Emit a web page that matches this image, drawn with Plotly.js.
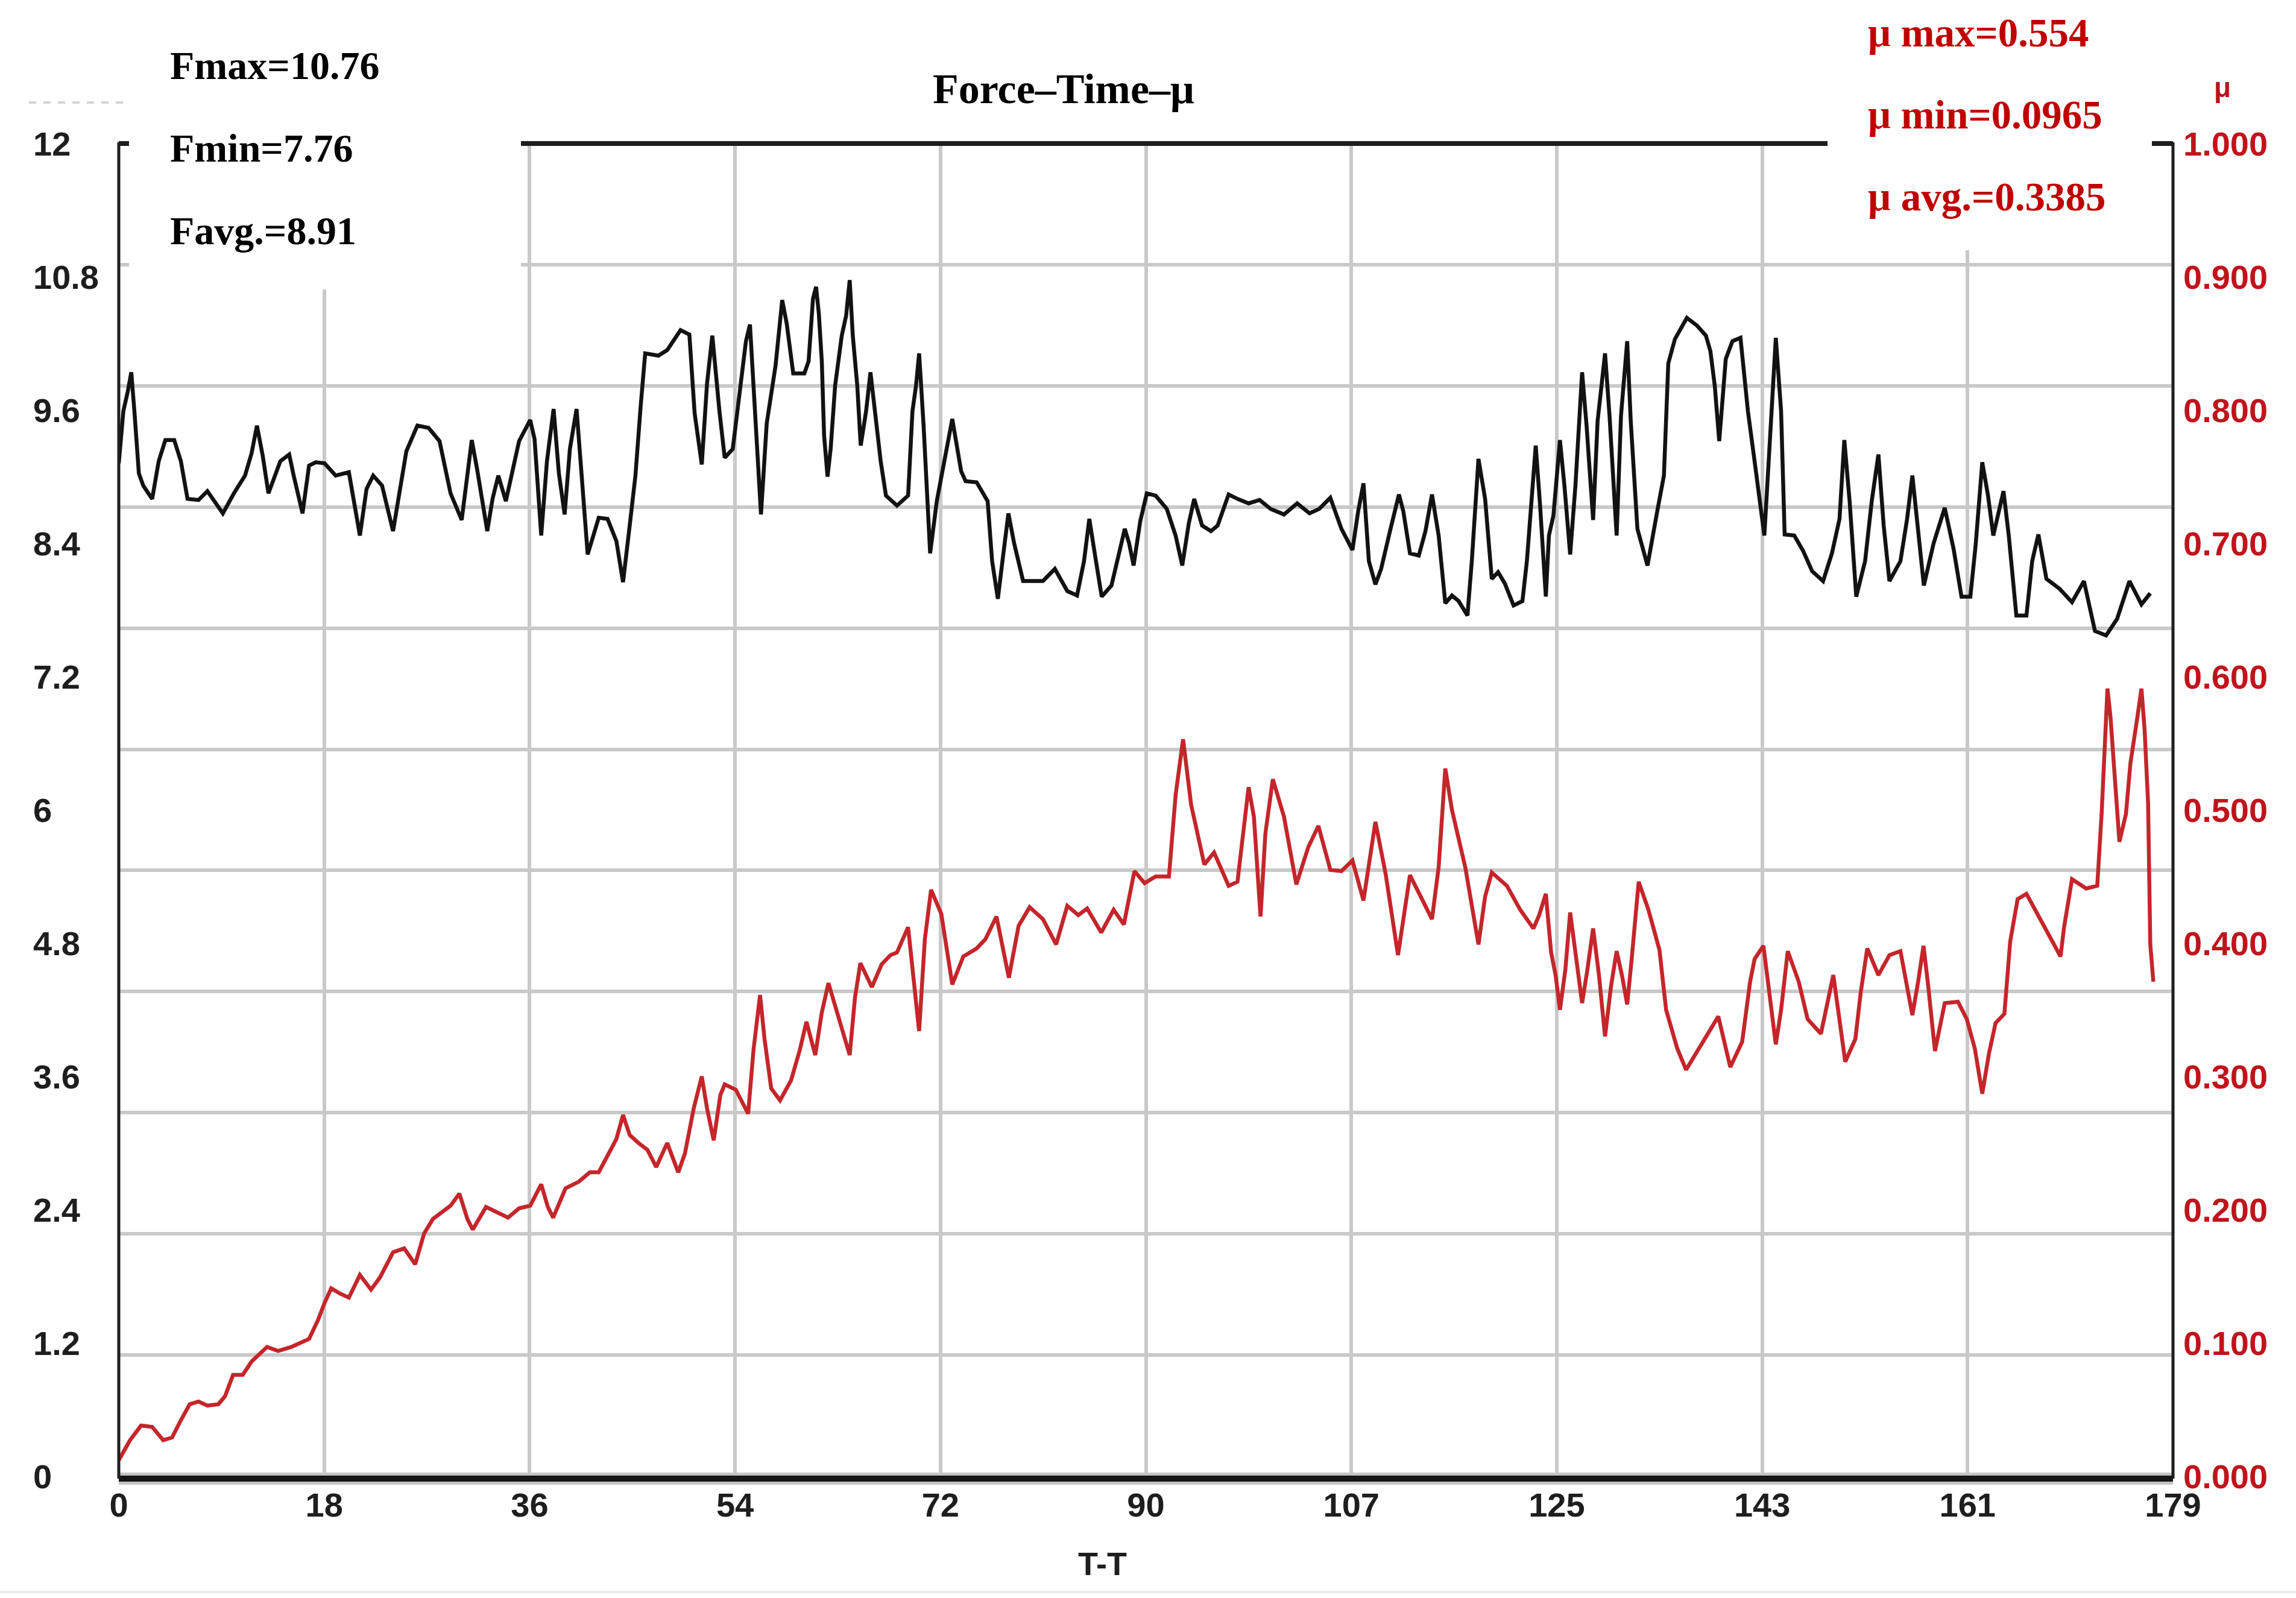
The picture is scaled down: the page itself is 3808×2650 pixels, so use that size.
<!DOCTYPE html>
<html>
<head>
<meta charset="utf-8">
<script src="https://cdn.plot.ly/plotly-3.0.1.min.js"></script>
<style>html,body{margin:0;padding:0;background:#fff;}#chart{width:3808px;height:2650px;}</style>
</head>
<body>
<div id="chart"></div>
<script>
// ---------- data ----------
const forceTime = [0,0.4,0.79,1.09,1.36,1.75,2.13,2.91,3.48,4.06,4.83,5.41,5.99,6.95,7.72,9.07,10.03,11.0,11.57,12.04,12.54,13.04,14.08,14.85,15.24,16.01,16.58,17.16,17.93,18.9,20.05,21.01,21.59,22.17,22.94,23.9,25.06,26.02,26.99,27.95,28.91,29.88,30.26,30.76,31.22,32.11,32.57,33.07,33.73,34.31,34.88,35.85,36.23,36.81,37.31,37.89,38.35,38.85,39.31,39.89,40.47,40.86,41.82,42.59,43.36,43.94,44.52,45.02,45.48,45.87,47.02,47.79,48.95,49.72,50.18,50.8,51.26,51.72,52.34,52.8,53.5,54.15,54.65,55.0,55.42,55.96,56.46,57.23,57.81,58.2,58.77,59.74,60.11,60.49,60.76,61.0,61.26,61.46,61.76,62.03,62.42,63.0,63.38,63.69,63.96,64.35,64.65,65.12,65.5,65.89,66.39,66.85,67.81,68.78,69.16,69.47,69.74,70.13,70.7,71.28,71.86,72.63,73.4,73.79,74.75,75.71,76.1,76.6,77.06,77.52,78.02,78.8,80.53,81.57,82.65,83.5,84.11,84.57,85.15,85.65,86.5,87.08,87.66,88.04,88.43,89.01,89.58,90.35,91.32,92.09,92.67,93.24,93.71,94.4,95.17,95.75,96.71,97.48,98.45,99.41,100.37,101.53,102.68,103.76,104.61,105.57,106.54,107.5,108.0,108.46,108.93,109.5,110.0,110.77,111.55,111.93,112.51,113.28,113.86,114.43,115.01,115.59,116.17,116.75,117.52,117.9,118.48,119.06,119.64,120.19,120.77,121.54,122.31,122.7,123.08,123.47,123.85,124.35,124.62,125.01,125.58,125.97,126.47,126.93,127.51,127.9,128.47,128.86,129.51,129.9,130.52,130.9,131.44,131.75,132.33,133.21,134.06,134.64,135.02,135.6,136.64,137.53,138.3,138.69,139.07,139.46,140.03,140.61,141.31,141.96,142.54,143.39,143.77,144.39,144.85,145.16,146.0,146.78,147.55,148.51,149.28,149.94,150.36,150.82,151.4,152.17,152.75,153.33,153.79,154.29,155.25,155.83,156.29,156.79,157.29,158.14,159.11,159.88,160.57,161.34,161.8,162.38,162.88,163.34,164.23,164.69,165.35,166.23,166.73,167.27,167.97,169.12,170.2,171.24,172.2,173.17,174.13,175.21,176.25,177.02];
const forceN = [9.12,9.59,9.77,9.94,9.59,9.03,8.92,8.8,9.14,9.33,9.33,9.14,8.8,8.79,8.87,8.67,8.85,9.01,9.21,9.46,9.19,8.85,9.14,9.2,9.01,8.67,9.1,9.13,9.12,9.01,9.04,8.47,8.89,9.01,8.92,8.51,9.23,9.46,9.44,9.32,8.85,8.61,8.92,9.33,9.07,8.51,8.8,9.01,8.78,9.07,9.32,9.51,9.34,8.47,9.14,9.61,9.03,8.66,9.25,9.61,8.78,8.3,8.63,8.62,8.42,8.05,8.56,9.01,9.64,10.11,10.09,10.14,10.32,10.28,9.57,9.11,9.84,10.27,9.59,9.17,9.25,9.82,10.22,10.37,9.55,8.66,9.48,10.0,10.59,10.38,9.93,9.93,10.04,10.6,10.71,10.47,10.04,9.37,9.0,9.25,9.82,10.27,10.45,10.77,10.27,9.82,9.28,9.59,9.94,9.59,9.14,8.83,8.74,8.83,9.59,9.82,10.11,9.46,8.31,8.78,9.1,9.52,9.05,8.96,8.95,8.78,8.24,7.9,8.29,8.67,8.4,8.06,8.06,8.17,7.97,7.93,8.24,8.62,8.24,7.92,8.02,8.29,8.53,8.4,8.2,8.6,8.85,8.83,8.71,8.47,8.2,8.58,8.8,8.56,8.51,8.56,8.84,8.8,8.76,8.79,8.71,8.66,8.76,8.67,8.71,8.81,8.53,8.34,8.69,8.94,8.24,8.03,8.17,8.51,8.84,8.69,8.31,8.29,8.51,8.84,8.47,7.86,7.93,7.88,7.75,8.24,9.16,8.8,8.08,8.14,8.04,7.84,7.88,8.24,8.74,9.28,8.74,7.92,8.47,8.65,9.33,8.92,8.3,8.92,9.94,9.46,8.61,9.5,10.11,9.55,8.47,9.55,10.22,9.5,8.53,8.2,8.69,9.01,10.02,10.24,10.43,10.36,10.27,10.13,9.82,9.32,10.06,10.22,10.25,9.59,9.14,8.47,9.14,10.25,9.59,8.48,8.47,8.33,8.15,8.06,8.31,8.62,9.33,8.78,7.92,8.24,8.78,9.2,8.56,8.06,8.24,8.62,9.01,8.53,8.02,8.4,8.72,8.35,7.92,7.92,8.38,9.13,8.83,8.47,8.87,8.47,7.75,7.75,8.24,8.48,8.08,7.99,7.87,8.06,7.61,7.57,7.72,8.06,7.85,7.95];

const muTime = [0,0.98,1.94,2.91,3.87,4.64,5.41,6.18,6.95,7.72,8.68,9.26,9.96,10.8,11.57,12.92,13.89,15.04,16.58,17.35,17.93,18.51,19.28,20.05,21.01,21.98,22.75,23.9,24.87,25.83,26.6,27.37,28.91,29.68,30.38,30.84,32.0,32.96,33.92,34.88,35.85,36.81,37.39,37.85,38.93,40.09,41.05,41.82,42.59,43.36,43.94,44.52,45.29,46.06,46.83,47.79,48.75,49.33,50.1,50.8,51.26,51.84,52.42,52.8,53.77,54.34,54.84,55.31,55.88,56.27,56.85,57.62,58.58,59.35,59.92,60.69,61.26,61.84,62.42,63.69,64.15,64.62,65.62,66.47,67.24,67.81,68.78,69.28,69.74,70.24,70.78,71.67,72.63,73.59,74.75,75.52,76.48,77.56,78.41,79.37,80.53,81.68,82.65,83.61,84.38,85.61,86.69,87.58,88.5,89.39,90.35,91.51,92.09,92.74,93.44,94.59,95.44,96.71,97.48,98.45,98.91,99.49,99.91,100.56,101.53,102.61,103.65,104.53,105.57,106.54,107.5,108.46,109.5,110.39,111.47,112.51,114.43,115.01,115.59,116.17,117.33,118.48,119.06,119.64,120.96,122.12,123.27,123.77,124.35,124.81,125.2,125.58,126.05,126.47,126.93,127.51,127.97,128.47,128.98,129.51,130.02,130.52,130.98,131.44,131.83,132.44,133.29,134.25,134.83,135.8,136.57,137.53,138.49,139.38,140.42,141.46,142.15,142.54,143.31,143.69,144.39,144.85,145.43,146.39,147.16,148.32,149.4,150.44,151.32,151.79,152.36,153.33,154.29,155.25,155.72,156.29,156.79,157.26,157.68,158.26,159.11,160.26,161.03,161.73,162.38,162.96,163.54,164.31,164.81,165.46,166.23,167.2,168.16,169.2,169.51,170.2,171.44,172.4,172.78,172.98,173.29,173.55,173.94,174.33,174.9,175.29,175.87,176.25,176.52,176.83,177.02,177.29];
const muValue = [0.012,0.027,0.038,0.037,0.027,0.029,0.042,0.054,0.056,0.053,0.054,0.06,0.076,0.076,0.086,0.097,0.094,0.097,0.103,0.117,0.13,0.141,0.137,0.134,0.151,0.14,0.149,0.168,0.171,0.159,0.182,0.193,0.203,0.212,0.193,0.185,0.202,0.198,0.194,0.201,0.203,0.219,0.202,0.194,0.216,0.221,0.228,0.228,0.24,0.253,0.271,0.256,0.25,0.245,0.232,0.25,0.228,0.242,0.276,0.3,0.276,0.252,0.286,0.294,0.29,0.281,0.272,0.32,0.361,0.328,0.291,0.282,0.297,0.32,0.341,0.316,0.348,0.37,0.353,0.316,0.359,0.385,0.367,0.384,0.391,0.393,0.412,0.37,0.334,0.403,0.44,0.422,0.369,0.39,0.396,0.403,0.42,0.374,0.413,0.427,0.418,0.399,0.428,0.421,0.426,0.408,0.425,0.414,0.454,0.445,0.45,0.45,0.511,0.553,0.504,0.459,0.468,0.443,0.446,0.517,0.495,0.42,0.482,0.523,0.495,0.444,0.472,0.488,0.455,0.454,0.462,0.432,0.491,0.452,0.391,0.451,0.418,0.457,0.531,0.5,0.457,0.399,0.435,0.453,0.443,0.425,0.411,0.421,0.437,0.393,0.376,0.35,0.38,0.423,0.393,0.355,0.38,0.411,0.376,0.33,0.367,0.394,0.376,0.354,0.388,0.446,0.425,0.395,0.35,0.321,0.305,0.319,0.332,0.345,0.307,0.326,0.371,0.388,0.398,0.371,0.324,0.35,0.394,0.371,0.343,0.332,0.376,0.311,0.328,0.363,0.396,0.376,0.391,0.394,0.371,0.346,0.371,0.398,0.367,0.319,0.355,0.356,0.343,0.321,0.287,0.317,0.34,0.347,0.401,0.433,0.437,0.422,0.406,0.39,0.412,0.448,0.441,0.443,0.497,0.535,0.591,0.57,0.518,0.476,0.497,0.535,0.568,0.591,0.561,0.505,0.399,0.371];

const xTickVals = [0, 17.9, 35.8, 53.7, 71.6, 89.5, 107.4, 125.3, 143.2, 161.1, 179];
const xTickText = ['0','18','36','54','72','90','107','125','143','161','179'];
const forceTickVals = [12, 10.8, 9.6, 8.4, 7.2, 6, 4.8, 3.6, 2.4, 1.2, 0];
const forceTickText = ['12','10.8','9.6','8.4','7.2','6','4.8','3.6','2.4','1.2','0'];
const muTickVals = [1, 0.9, 0.8, 0.7, 0.6, 0.5, 0.4, 0.3, 0.2, 0.1, 0];
const muTickText = ['1.000','0.900','0.800','0.700','0.600','0.500','0.400','0.300','0.200','0.100','0.000'];
const titleText = 'Force–Time–μ';
const forceStats = ['Fmax=10.76', 'Fmin=7.76', 'Favg.=8.91'];
const muStats = ['μ max=0.554', 'μ min=0.0965', 'μ avg.=0.3385'];
const xTitle = 'T-T';
const muAxisLabel = 'μ';

// ---------- layout geometry (pixels) ----------
const W = 3808, H = 2650;
const PL = 197, PR = 3604, PT = 238, PB = 2448;
const px = X => (X - PL) / (PR - PL);
const py = Y => (PB - Y) / (PB - PT);

const SANS = 'Liberation Sans, Arial, sans-serif';
const SERIF = 'Liberation Serif, Times New Roman, serif';
const RED = '#c00000';
const GRID = '#c9c9c9';

const traces = [
  {x: forceTime, y: forceN, type: 'scatter', mode: 'lines', yaxis: 'y',
   line: {color: '#121212', width: 6.5}, hoverinfo: 'skip', showlegend: false},
  {x: muTime, y: muValue, type: 'scatter', mode: 'lines', yaxis: 'y2',
   line: {color: '#c4262b', width: 6.5}, hoverinfo: 'skip', showlegend: false}
];

const annotations = [];
forceTickVals.forEach((v, i) => annotations.push({
  x: px(53), xref: 'paper', xanchor: 'left', y: v, yref: 'y', yanchor: 'middle',
  text: forceTickText[i], showarrow: false,
  font: {family: SANS, size: 56, color: '#1e1e1e', weight: 700}
}));
[109, 246, 382].forEach((Y, i) => annotations.push({
  x: px(280), xref: 'paper', xanchor: 'left', y: py(Y), yref: 'paper', yanchor: 'middle',
  text: forceStats[i], showarrow: false,
  font: {family: SERIF, size: 66, color: '#000', weight: 700}
}));
[54, 190, 326].forEach((Y, i) => annotations.push({
  x: px(3096), xref: 'paper', xanchor: 'left', y: py(Y), yref: 'paper', yanchor: 'middle',
  text: muStats[i], showarrow: false,
  font: {family: SERIF, size: 67, color: RED, weight: 700}
}));
annotations.push({x: px(1764), xref: 'paper', xanchor: 'center', y: py(148), yref: 'paper', yanchor: 'middle',
  text: titleText, showarrow: false, font: {family: SERIF, size: 70, color: '#000', weight: 700}});
annotations.push({x: px(1828), xref: 'paper', xanchor: 'center', y: py(2593), yref: 'paper', yanchor: 'middle',
  text: xTitle, showarrow: false, font: {family: SANS, size: 54, color: '#1e1e1e', weight: 700}});
annotations.push({x: px(3686), xref: 'paper', xanchor: 'center', y: py(145), yref: 'paper', yanchor: 'middle',
  text: muAxisLabel, showarrow: false, font: {family: SANS, size: 46, color: '#b5161c', weight: 700}});

const line = (x0, y0, x1, y1, color, width, dash) => ({
  type: 'line', xref: 'paper', yref: 'paper', x0: px(x0), y0: py(y0), x1: px(x1), y1: py(y1),
  line: {color: color, width: width, dash: dash || 'solid'}, layer: 'above'
});
const rect = (x0, y0, x1, y1) => ({
  type: 'rect', xref: 'paper', yref: 'paper', x0: px(x0), y0: py(y0), x1: px(x1), y1: py(y1),
  fillcolor: '#ffffff', line: {width: 0}, layer: 'above'
});

const shapes = [
  line(PL, 2452, PR, 2452, '#c4c4c4', 20),
  line(PL, 2452, PR, 2452, '#161616', 10),
  line(PL, 238, PR, 238, '#1e1e1e', 8),
  line(PL, 236, PL, 2452, '#1e1e1e', 5),
  line(PR, 236, PR, 2452, '#1e1e1e', 5),
  rect(214, -10, 864, 480),
  rect(3031, -10, 3569, 415),
  line(48, 170, 214, 170, '#d4d4d4', 4, 'dash'),
  line(0, 2640, W, 2640, '#e8e8e8', 3)
];

const layout = {
  width: W, height: H,
  margin: {l: PL, r: W - PR, t: PT, b: H - PB, pad: 0},
  paper_bgcolor: '#fff', plot_bgcolor: '#fff',
  showlegend: false,
  xaxis: {
    range: [0, 179], tickmode: 'array', tickvals: xTickVals, ticktext: xTickText,
    showgrid: true, gridcolor: GRID, gridwidth: 6, zeroline: false, showline: false,
    ticks: '', ticklabelstandoff: 10,
    tickfont: {family: SANS, size: 56, color: '#1e1e1e', weight: 700}, fixedrange: true
  },
  yaxis: {
    range: [0, 12], tickmode: 'linear', tick0: 0, dtick: 12 / 11,
    showgrid: true, gridcolor: GRID, gridwidth: 6, zeroline: false, showline: false,
    showticklabels: false, ticks: '', fixedrange: true
  },
  yaxis2: {
    overlaying: 'y', side: 'right', range: [0, 1],
    tickmode: 'array', tickvals: muTickVals, ticktext: muTickText,
    showgrid: false, zeroline: false, showline: false, ticks: '', ticklabelstandoff: 16,
    tickfont: {family: SANS, size: 56, color: '#c0141c', weight: 700}, fixedrange: true
  },
  annotations: annotations,
  shapes: shapes
};

Plotly.newPlot('chart', traces, layout, {displayModeBar: false, staticPlot: true});
</script>
</body>
</html>
